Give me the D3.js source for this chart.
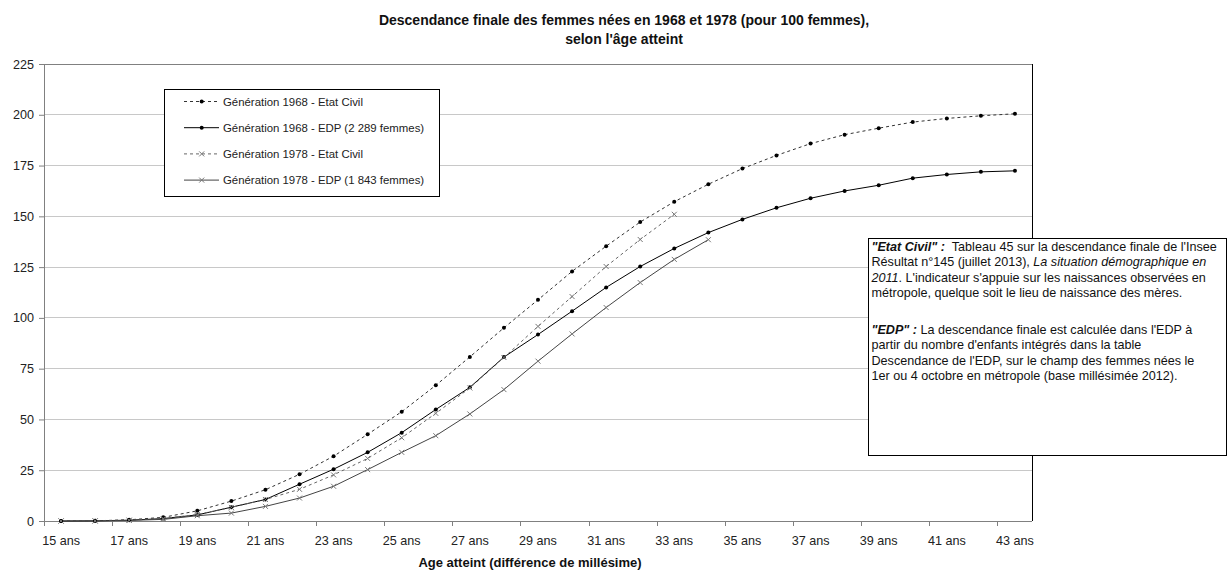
<!DOCTYPE html>
<html><head><meta charset="utf-8">
<script src="https://cdn.jsdelivr.net/npm/d3@7"></script>
<style>
body{margin:0;background:#fff;}
text{font-family:"Liberation Sans",Arial,sans-serif;}
</style></head>
<body><svg id="c" width="1228" height="572"></svg>
<script>
// ---- data ----
const ages = d3.range(15, 44); // 15..43
const ageLabels = [15,17,19,21,23,25,27,29,31,33,35,37,39,41,43];
const yTicks = [0,25,50,75,100,125,150,175,200,225];
const gen1968EC = [0.0,0.1,0.6,1.8,5.0,9.8,15.4,23.0,31.9,42.7,53.8,66.8,80.8,95.1,108.9,122.9,135.3,147.2,157.2,165.8,173.5,180.0,185.8,190.2,193.4,196.4,198.2,199.5,200.5];
const gen1968EDP = [0.0,0.1,0.4,1.2,3.0,6.8,10.6,18.1,25.5,33.8,43.5,54.9,65.8,80.7,91.8,103.3,115.0,125.3,134.2,142.0,148.5,154.2,158.9,162.5,165.3,168.8,170.6,171.9,172.4];
const gen1978EC = [0.0,0.1,0.4,1.2,3.2,6.7,10.6,15.6,22.7,30.8,41.0,53.0,65.5,80.5,95.8,110.5,125.3,138.6,151.0];
const gen1978EDP = [0.0,0.0,0.3,0.8,2.6,3.9,7.2,11.3,17.1,25.3,33.8,42.0,52.7,64.7,78.7,92.1,105.1,117.4,128.8,138.5];
const seriesNames = ["Génération 1968 - Etat Civil","Génération 1968 - EDP (2 289 femmes)","Génération 1978 - Etat Civil","Génération 1978 - EDP (1 843 femmes)"];

const series = [
  {name:seriesNames[0], values:gen1968EC, dash:"3,3", stroke:"#333", marker:"dot", mcolor:"#000"},
  {name:seriesNames[1], values:gen1968EDP, dash:null, stroke:"#000", marker:"dot", mcolor:"#000"},
  {name:seriesNames[2], values:gen1978EC, dash:"3,3", stroke:"#666", marker:"x", mcolor:"#777"},
  {name:seriesNames[3], values:gen1978EDP, dash:null, stroke:"#444", marker:"x", mcolor:"#777"}
];

const svg = d3.select("#c");
const L = 44, R = 1032, T = 64, B = 521;
const x = d3.scalePoint().domain(ages).range([L, R]).padding(0.5);
const y = d3.scaleLinear().domain([0, 225]).range([B, T]);
const step = x.step();

// gridlines
svg.append("g").selectAll("line").data(yTicks.filter(d=>d>0 && d<225)).join("line")
  .attr("x1", L).attr("x2", R).attr("y1", d=>y(d)).attr("y2", d=>y(d))
  .attr("stroke", "#c8c8c8").attr("stroke-width", 1).attr("shape-rendering","crispEdges");
// top border & right border
svg.append("line").attr("x1",L).attr("x2",R).attr("y1",T).attr("y2",T).attr("stroke","#808080").attr("shape-rendering","crispEdges");
svg.append("line").attr("x1",R).attr("x2",R).attr("y1",T).attr("y2",B).attr("stroke","#000").attr("shape-rendering","crispEdges");

// y axis
const yAxis = d3.axisLeft(y).tickValues(yTicks).tickSize(5).tickPadding(5);
const gy = svg.append("g").attr("transform", `translate(${L},0)`).call(yAxis);
gy.select(".domain").attr("stroke","#808080");
gy.selectAll(".tick line").attr("stroke","#808080");
gy.selectAll("text").attr("font-size", 12.6).attr("fill","#222").style("font-family","Liberation Sans, Arial, sans-serif");

// x axis (categories, ticks every 2 categories at boundaries)
svg.append("line").attr("x1",L).attr("x2",R).attr("y1",B).attr("y2",B).attr("stroke","#808080").attr("shape-rendering","crispEdges");
const tickAges = ages.filter((a,i)=> i%2===0);
svg.append("g").selectAll("line").data(tickAges).join("line")
  .attr("x1", d=>x(d)-step/2).attr("x2", d=>x(d)-step/2).attr("y1", B).attr("y2", B+5)
  .attr("stroke","#808080").attr("shape-rendering","crispEdges");
svg.append("g").selectAll("text").data(ageLabels).join("text")
  .attr("x", d=>x(d)).attr("y", B+24).attr("text-anchor","middle")
  .attr("font-size",12.6).attr("fill","#222").text(d=>d+" ans");

// lines
const line = d3.line().x((d,i)=>x(ages[i])).y(d=>y(d));
series.forEach(s=>{
  svg.append("path").datum(s.values).attr("d", line).attr("fill","none")
    .attr("stroke", s.stroke).attr("stroke-width",1)
    .attr("stroke-dasharray", s.dash);
});
function drawMarker(g, cx, cy, s){
  if (s.marker==="dot") {
    g.append("circle").attr("cx",cx).attr("cy",cy).attr("r",2).attr("fill",s.mcolor);
  } else {
    const r=2.5;
    g.append("path").attr("d",`M${cx-r},${cy-r}L${cx+r},${cy+r}M${cx-r},${cy+r}L${cx+r},${cy-r}`)
      .attr("stroke",s.mcolor).attr("stroke-width",1).attr("fill","none");
  }
}
series.forEach(s=>{
  const g = svg.append("g");
  s.values.forEach((v,i)=>drawMarker(g, x(ages[i]), y(v), s));
});

// legend
const lg = svg.append("g");
lg.append("rect").attr("x",164.5).attr("y",89.5).attr("width",275).attr("height",107)
  .attr("fill","#fff").attr("stroke","#000");
series.forEach((s,i)=>{
  const yy = 101.5 + i*26.2;
  lg.append("line").attr("x1",184).attr("x2",219).attr("y1",yy).attr("y2",yy)
    .attr("stroke",s.stroke).attr("stroke-dasharray",s.dash);
  drawMarker(lg, 201.7, yy, s);
  lg.append("text").attr("x",223).attr("y",yy+4).attr("font-size",11.4).attr("fill","#222").text(s.name);
});

// annotation box
const ab = svg.append("g");
ab.append("rect").attr("x",868.5).attr("y",238.5).attr("width",358).attr("height",217)
  .attr("fill","#fff").attr("stroke","#000");
const fs = 12.6;
const noteLines = [
  [{t:"\"Etat Civil\" :", b:1, i:1},{t:"  Tableau 45 sur la descendance finale de l'Insee"}],
  [{t:"Résultat n°145 (juillet 2013), "},{t:"La situation démographique en", i:1}],
  [{t:"2011", i:1},{t:". L'indicateur s'appuie sur les naissances observées en"}],
  [{t:"métropole, quelque soit le lieu de naissance des mères."}],
  null,
  [{t:"\"EDP\" :", b:1, i:1},{t:" La descendance finale est calculée dans l'EDP à"}],
  [{t:"partir du nombre d'enfants intégrés dans la table"}],
  [{t:"Descendance de l'EDP, sur le champ des femmes nées le"}],
  [{t:"1er ou 4 octobre en métropole (base millésimée 2012)."}]
];
const baselines = [251,266.3,281.6,296.9,null,334,349.3,364.6,379.9];
noteLines.forEach((ln,k)=>{
  if(!ln) return;
  const t = ab.append("text").attr("x",871.5).attr("y",baselines[k]).attr("font-size",fs).attr("fill","#111").attr("xml:space","preserve");
  ln.forEach(p=>{
    t.append("tspan").text(p.t).attr("font-weight",p.b?"bold":null).attr("font-style",p.i?"italic":null);
  });
});

// titles
svg.append("text").attr("x",624).attr("y",25).attr("text-anchor","middle").attr("font-size",14).attr("font-weight","bold").attr("fill","#111")
  .text("Descendance finale des femmes nées en 1968 et 1978 (pour 100 femmes),");
svg.append("text").attr("x",624).attr("y",44).attr("text-anchor","middle").attr("font-size",14).attr("font-weight","bold").attr("fill","#111")
  .text("selon l'âge atteint");
svg.append("text").attr("x",530).attr("y",567).attr("text-anchor","middle").attr("font-size",13).attr("font-weight","bold").attr("fill","#111")
  .text("Age atteint (différence de millésime)");
</script>
</body></html>
